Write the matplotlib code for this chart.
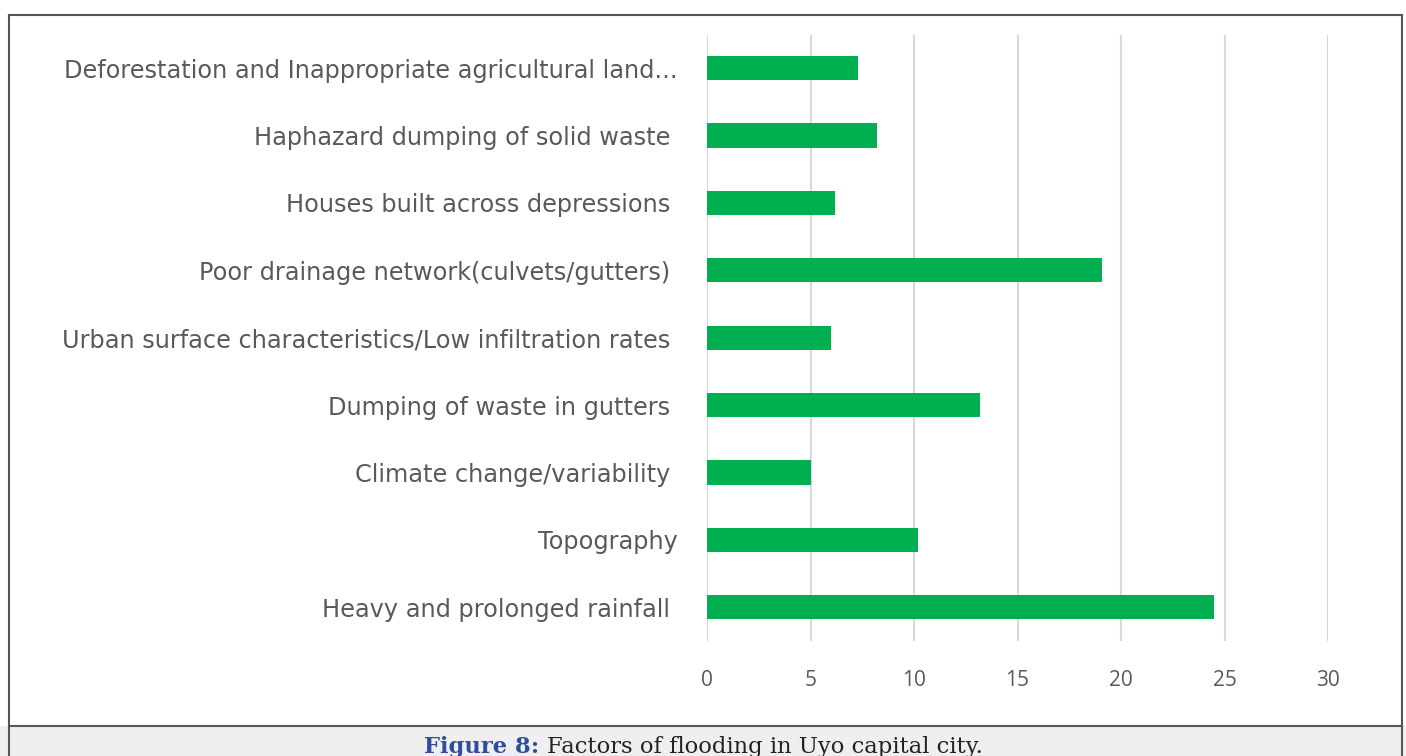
import matplotlib
matplotlib.use("Agg")
import matplotlib.pyplot as plt
from matplotlib.patches import Rectangle
from matplotlib.lines import Line2D

# causes of flooding, listed bottom to top as drawn
factors = [
    "Heavy and prolonged rainfall ",
    "Topography",
    "Climate change/variability ",
    "Dumping of waste in gutters ",
    "Urban surface characteristics/Low infiltration rates ",
    "Poor drainage network(culvets/gutters) ",
    "Houses built across depressions ",
    "Haphazard dumping of solid waste ",
    "Deforestation and Inappropriate agricultural land...",
]
scores = [24.5, 10.2, 5.0, 13.2, 6.0, 19.1, 6.2, 8.2, 7.3]
xticks = [0, 5, 10, 15, 20, 25, 30]

W, H = 1406, 756
fig = plt.figure(figsize=(W / 100, H / 100), dpi=100)
fig.patch.set_facecolor("white")

ax = fig.add_axes([707 / W, 115 / H, 621 / W, 606.5 / H])
ypos = list(range(len(factors)))
ax.barh(ypos, scores, height=0.36, color="#00B050", zorder=3)
ax.set_xlim(0, 30)
ax.set_ylim(-0.5, len(factors) - 0.5)
ax.set_xticks(xticks)
ax.set_xticklabels([str(t) for t in xticks])
ax.set_yticks(ypos)
ax.set_yticklabels(factors)
ax.grid(axis="x", color="#D9D9D9", linewidth=1.5, zorder=0)
for s in ax.spines.values():
    s.set_visible(False)
ax.tick_params(axis="x", length=0, pad=21, labelsize=15, labelcolor="#595959")
ax.tick_params(axis="y", length=0, pad=21, labelsize=17.3, labelcolor="#595959")
for lab in ax.get_yticklabels():
    lab.set_family("DejaVu Sans")
for lab in ax.get_xticklabels():
    lab.set_family("Open Sans")

# frame and caption strip
fig.add_artist(Rectangle((0, 0), 1, 30 / H, transform=fig.transFigure,
                         facecolor="#EFEFEF", edgecolor="none"))
lc = "#555555"
fig.add_artist(Line2D([8.5 / W, 8.5 / W], [0, 1 - 14.5 / H], color=lc, lw=1.5))
fig.add_artist(Line2D([1401.5 / W, 1401.5 / W], [0, 1 - 14.5 / H], color=lc, lw=1.5))
fig.add_artist(Line2D([8.5 / W, 1401.5 / W], [1 - 14.5 / H, 1 - 14.5 / H], color=lc, lw=1.5))
fig.add_artist(Line2D([8.5 / W, 1401.5 / W], [30 / H, 30 / H], color=lc, lw=1.5))

cap_y = 9 / H
t1 = fig.text(424 / W, cap_y, "Figure 8:", family="DejaVu Serif", weight="bold",
              color="#2E4D9B", fontsize=16.3, va="center", ha="left")
fig.canvas.draw()
bb = t1.get_window_extent(fig.canvas.get_renderer())
fig.text((bb.x1 + 8) / W, cap_y, "Factors of flooding in Uyo capital city.",
         family="DejaVu Serif", color="#222222", fontsize=16.3, va="center", ha="left")

fig.savefig("out.png", dpi=100)
